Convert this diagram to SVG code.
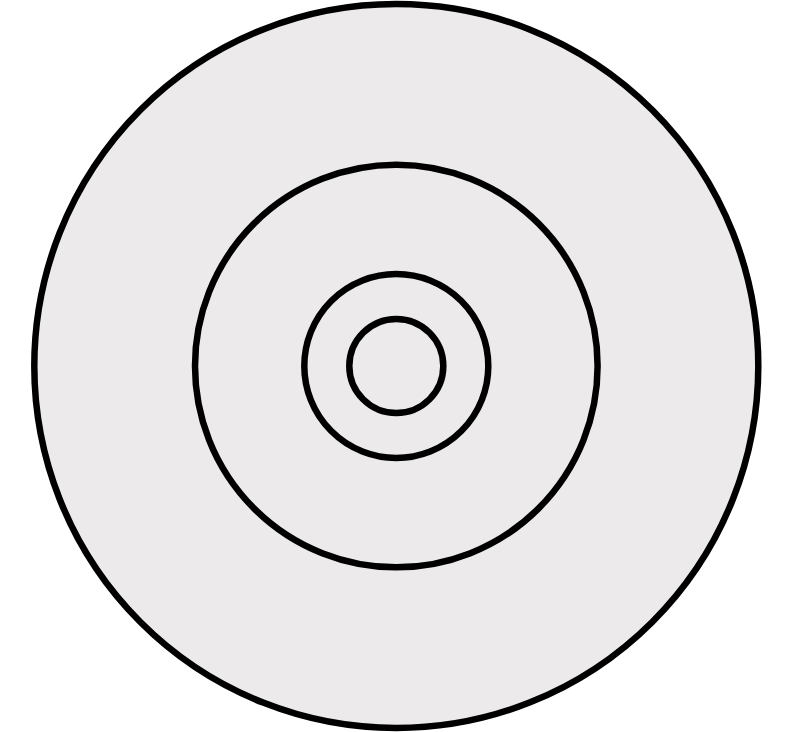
<svg xmlns="http://www.w3.org/2000/svg" width="800" height="732" viewBox="0 0 800 732">
<style>
.ring{fill:none;stroke:#000;stroke-width:6.5}
</style>
<rect width="800" height="732" fill="#fff"/>
<g id="disc">
<circle cx="396.3" cy="366" r="362" fill="#ECEAEB" stroke="#000" stroke-width="6.5"/>
</g>
<g id="ring2"><circle class="ring" cx="396.3" cy="366" r="201.3"/></g>
<g id="ring3"><circle class="ring" cx="396.3" cy="366" r="92"/></g>
<g id="ring4"><circle class="ring" cx="396.3" cy="366" r="47"/></g>
</svg>
